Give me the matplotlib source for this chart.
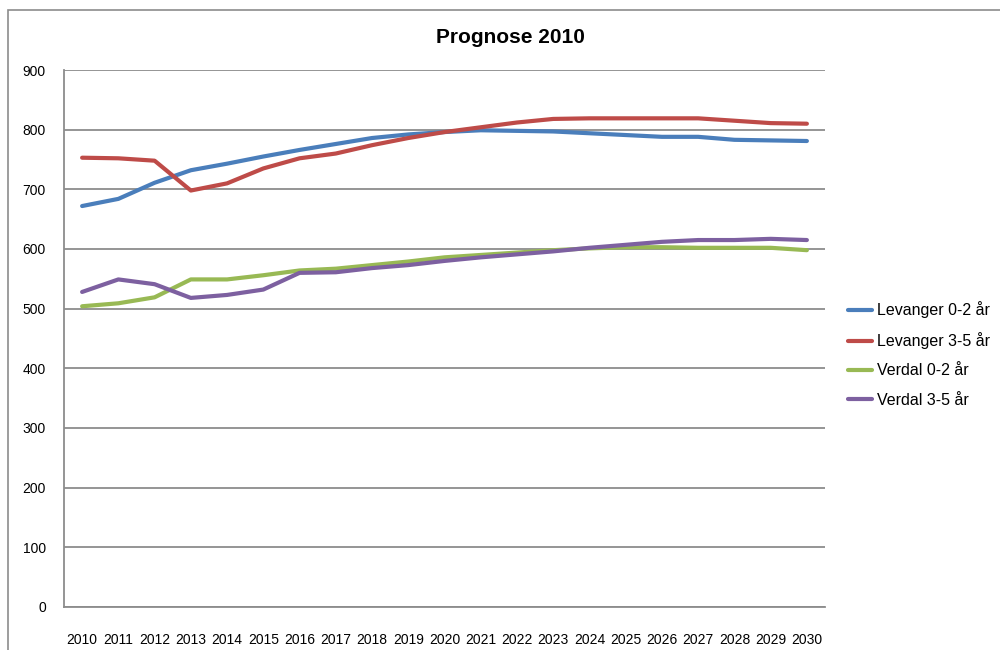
import numpy as np
import matplotlib
matplotlib.use("Agg")
import matplotlib.pyplot as plt
from matplotlib.patches import Rectangle

# ==============================================================================
#                           DATA
# ==============================================================================
years = [str(y) for y in range(2010, 2031)]

levanger_02 = [672, 684, 711, 732, 743, 755, 766, 776, 786, 792, 796,
               799, 798, 797, 794, 791, 788, 788, 783, 782, 781]
levanger_35 = [753, 752, 748, 698, 710, 735, 752, 760, 774, 786, 796,
               804, 812, 818, 819, 819, 819, 819, 815, 811, 810]
verdal_02 = [504, 509, 519, 549, 549, 556, 564, 567, 573, 579, 586,
             590, 594, 598, 601, 603, 603, 602, 602, 602, 598]
verdal_35 = [528, 549, 541, 518, 523, 532, 560, 561, 568, 573, 580,
             586, 591, 596, 602, 607, 612, 615, 615, 617, 615]

series = [levanger_02, levanger_35, verdal_02, verdal_35]
labels = ["Levanger 0-2 år", "Levanger 3-5 år", "Verdal 0-2 år", "Verdal 3-5 år"]
colors = ["#4A7EBB", "#BE4B48", "#98B954", "#7D60A0"]

yticks = [0, 100, 200, 300, 400, 500, 600, 700, 800, 900]

# ==============================================================================
#                           PLOTTING
# ==============================================================================
plt.rcParams['font.family'] = ['Liberation Sans', 'DejaVu Sans']

fig = plt.figure(figsize=(10, 6.5), dpi=100)
ax = fig.add_axes([0.064, 0.0662, 0.761, 0.8261])

# outer chart border (cut by image edge)
fig.patches.append(Rectangle((0.008, -0.05), 1.1, 1.035, transform=fig.transFigure,
                             fill=False, edgecolor="#8c8c8c", linewidth=1.2))

x = np.arange(len(years))
for vals, lab, col in zip(series, labels, colors):
    ax.plot(x, vals, color=col, linewidth=3, label=lab, solid_capstyle='round')

ax.set_xlim(-0.5, len(years) - 0.5)
ax.set_ylim(0, 900)
ax.set_yticks(yticks)
ax.set_xticks(x)
ax.set_xticklabels(years)
ax.yaxis.grid(True, color="#8c8c8c", linewidth=1.3)
ax.set_axisbelow(True)
for s in ["top", "right"]:
    ax.spines[s].set_visible(False)
for s in ["left", "bottom"]:
    ax.spines[s].set_color("#8c8c8c")
    ax.spines[s].set_linewidth(1.3)
ax.tick_params(axis="both", length=0, labelsize=10, colors="black")
ax.tick_params(axis="y", pad=13)
ax.tick_params(axis="x", pad=19)

fig.text(0.51, 0.942, "Prognose 2010", ha="center", va="center",
         fontsize=15, fontweight="bold")

fig.legend(loc="center left", bbox_to_anchor=(0.848, 0.4546), frameon=False,
           fontsize=11.5, handlelength=1.5, labelspacing=0.88, handletextpad=0.3,
           borderaxespad=0, borderpad=0)

plt.savefig("out.png", dpi=100)
